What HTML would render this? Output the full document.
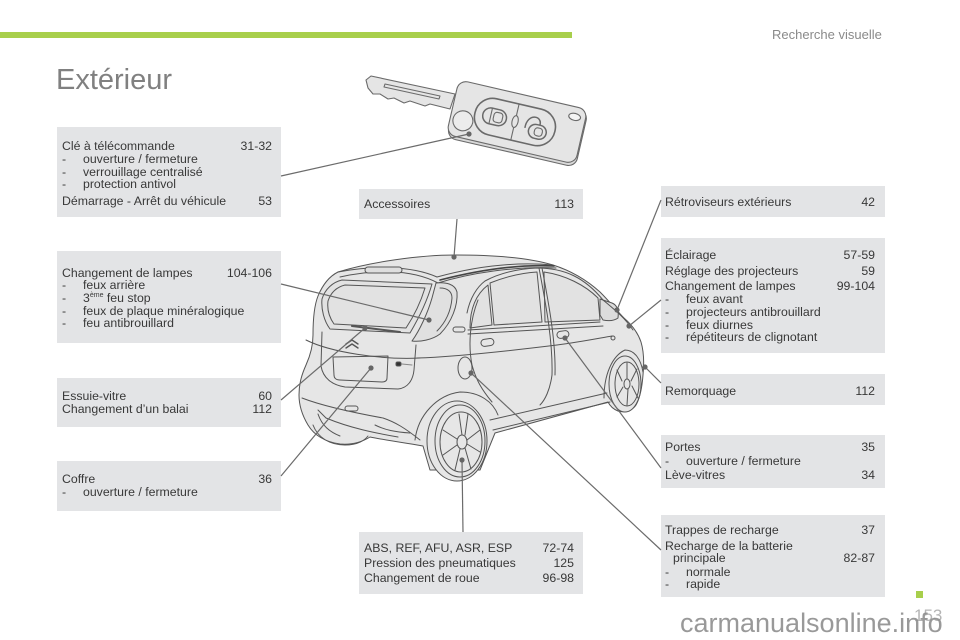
<!DOCTYPE html>
<html><head><meta charset="utf-8"><style>
html,body{margin:0;padding:0;}
body{width:960px;height:640px;position:relative;background:#fff;overflow:hidden;font-family:"Liberation Sans",Arial,sans-serif;}
.box{position:absolute;background:#e3e4e6;}
.t,.n{position:absolute;font-size:12.3px;line-height:14px;white-space:nowrap;color:#383838;}
.n{text-align:right;}
sup{font-size:7px;vertical-align:5px;line-height:0;}
svg{position:absolute;left:0;top:0;}
</style></head><body>

<div style="position:absolute;left:0;top:32px;width:572px;height:6px;background:#a8cf4c;"></div>
<div style="position:absolute;left:772px;top:28px;font-size:13px;line-height:13px;color:#8a8a8a;white-space:nowrap;">Recherche visuelle</div>
<div style="position:absolute;left:56px;top:66px;font-size:29px;line-height:29px;color:#808080;white-space:nowrap;">Extérieur</div>

<!-- left boxes -->
<div class="box" style="left:57px;top:127px;width:224px;height:90px;"></div>
<div class="t" style="left:62px;top:139px;">Clé à télécommande</div><div class="n" style="left:200px;width:72px;top:139px;">31-32</div>
<div class="t" style="left:62px;top:152px;">-</div><div class="t" style="left:83px;top:152px;">ouverture / fermeture</div>
<div class="t" style="left:62px;top:165px;">-</div><div class="t" style="left:83px;top:165px;">verrouillage centralisé</div>
<div class="t" style="left:62px;top:177px;">-</div><div class="t" style="left:83px;top:177px;">protection antivol</div>
<div class="t" style="left:62px;top:194px;">Démarrage - Arrêt du véhicule</div><div class="n" style="left:200px;width:72px;top:194px;">53</div>

<div class="box" style="left:57px;top:251px;width:224px;height:92px;"></div>
<div class="t" style="left:62px;top:266px;">Changement de lampes</div><div class="n" style="left:200px;width:72px;top:266px;">104-106</div>
<div class="t" style="left:62px;top:278px;">-</div><div class="t" style="left:83px;top:278px;">feux arrière</div>
<div class="t" style="left:62px;top:291px;">-</div><div class="t" style="left:83px;top:291px;">3<sup>ème</sup> feu stop</div>
<div class="t" style="left:62px;top:304px;">-</div><div class="t" style="left:83px;top:304px;">feux de plaque minéralogique</div>
<div class="t" style="left:62px;top:316px;">-</div><div class="t" style="left:83px;top:316px;">feu antibrouillard</div>

<div class="box" style="left:57px;top:378px;width:224px;height:49px;"></div>
<div class="t" style="left:62px;top:389px;">Essuie-vitre</div><div class="n" style="left:200px;width:72px;top:389px;">60</div>
<div class="t" style="left:62px;top:402px;">Changement d’un balai</div><div class="n" style="left:200px;width:72px;top:402px;">112</div>

<div class="box" style="left:57px;top:461px;width:224px;height:50px;"></div>
<div class="t" style="left:62px;top:472px;">Coffre</div><div class="n" style="left:200px;width:72px;top:472px;">36</div>
<div class="t" style="left:62px;top:485px;">-</div><div class="t" style="left:83px;top:485px;">ouverture / fermeture</div>

<!-- middle boxes -->
<div class="box" style="left:359px;top:189px;width:224px;height:30px;"></div>
<div class="t" style="left:364px;top:197px;">Accessoires</div><div class="n" style="left:500px;width:74px;top:197px;">113</div>

<div class="box" style="left:359px;top:532px;width:224px;height:62px;"></div>
<div class="t" style="left:364px;top:541px;">ABS, REF, AFU, ASR, ESP</div><div class="n" style="left:500px;width:74px;top:541px;">72-74</div>
<div class="t" style="left:364px;top:556px;">Pression des pneumatiques</div><div class="n" style="left:500px;width:74px;top:556px;">125</div>
<div class="t" style="left:364px;top:571px;">Changement de roue</div><div class="n" style="left:500px;width:74px;top:571px;">96-98</div>

<!-- right boxes -->
<div class="box" style="left:661px;top:186px;width:224px;height:31px;"></div>
<div class="t" style="left:665px;top:195px;">Rétroviseurs extérieurs</div><div class="n" style="left:800px;width:75px;top:195px;">42</div>

<div class="box" style="left:661px;top:238px;width:224px;height:115px;"></div>
<div class="t" style="left:665px;top:248px;">Éclairage</div><div class="n" style="left:800px;width:75px;top:248px;">57-59</div>
<div class="t" style="left:665px;top:264px;">Réglage des projecteurs</div><div class="n" style="left:800px;width:75px;top:264px;">59</div>
<div class="t" style="left:665px;top:279px;">Changement de lampes</div><div class="n" style="left:800px;width:75px;top:279px;">99-104</div>
<div class="t" style="left:665px;top:292px;">-</div><div class="t" style="left:686px;top:292px;">feux avant</div>
<div class="t" style="left:665px;top:305px;">-</div><div class="t" style="left:686px;top:305px;">projecteurs antibrouillard</div>
<div class="t" style="left:665px;top:318px;">-</div><div class="t" style="left:686px;top:318px;">feux diurnes</div>
<div class="t" style="left:665px;top:330px;">-</div><div class="t" style="left:686px;top:330px;">répétiteurs de clignotant</div>

<div class="box" style="left:661px;top:374px;width:224px;height:31px;"></div>
<div class="t" style="left:665px;top:384px;">Remorquage</div><div class="n" style="left:800px;width:75px;top:384px;">112</div>

<div class="box" style="left:661px;top:435px;width:224px;height:53px;"></div>
<div class="t" style="left:665px;top:440px;">Portes</div><div class="n" style="left:800px;width:75px;top:440px;">35</div>
<div class="t" style="left:665px;top:454px;">-</div><div class="t" style="left:686px;top:454px;">ouverture / fermeture</div>
<div class="t" style="left:665px;top:468px;">Lève-vitres</div><div class="n" style="left:800px;width:75px;top:468px;">34</div>

<div class="box" style="left:661px;top:515px;width:224px;height:82px;"></div>
<div class="t" style="left:665px;top:523px;">Trappes de recharge</div><div class="n" style="left:800px;width:75px;top:523px;">37</div>
<div class="t" style="left:665px;top:539px;">Recharge de la batterie</div>
<div class="t" style="left:673px;top:551px;">principale</div><div class="n" style="left:800px;width:75px;top:551px;">82-87</div>
<div class="t" style="left:665px;top:565px;">-</div><div class="t" style="left:686px;top:565px;">normale</div>
<div class="t" style="left:665px;top:577px;">-</div><div class="t" style="left:686px;top:577px;">rapide</div>

<div style="position:absolute;left:916px;top:591px;width:7px;height:7px;background:#a8cf4c;"></div>
<div style="position:absolute;left:914px;top:607px;font-size:17px;line-height:17px;color:#b5b5b5;white-space:nowrap;">153</div>
<div style="position:absolute;left:680px;top:610px;font-size:27px;line-height:27px;color:#8f8f8f;white-space:nowrap;opacity:0.9;">carmanualsonline.info</div>

<svg width="960" height="640" viewBox="0 0 960 640">
<!-- KEY -->
<g stroke="#6a6a6a" stroke-width="1.1" fill="#e5e5e5" stroke-linejoin="round">
  <polygon points="366,80 371,76 455,94 450,109 430,104 425,106 410,101 404,103 394,98 388,99 380,94 373,94 368,88"/>
  <path d="M385,84 L440,96 L439,99 L384,87 Z" fill="none"/>
  <g transform="rotate(13 517 122)">
    <rect x="452" y="96" width="132" height="57" rx="9" fill="#d9d9d9"/>
    <rect x="451" y="94" width="132" height="56" rx="9"/>
    <rect x="474" y="104" width="82" height="37" rx="18" fill="none" stroke-width="1.6"/>
    <line x1="515" y1="104" x2="515" y2="141"/>
    <ellipse cx="515" cy="122" rx="3" ry="6"/>
    <rect x="482" y="114" width="24" height="16" rx="8" fill="none" stroke-width="1.5"/>
    <line x1="490" y1="114" x2="490" y2="130"/>
    <rect x="493" y="117" width="9" height="10" rx="3" fill="none"/>
    <path d="M526,126 C525,110 541,110 540,120" fill="none" stroke-width="1.5"/>
    <rect x="530" y="120" width="18" height="14" rx="7" fill="none" stroke-width="1.5"/>
    <rect x="536" y="123" width="8" height="8" rx="3" fill="none"/>
    <circle cx="464" cy="133" r="10" fill="#ececec"/>
    <ellipse cx="572" cy="104" rx="6" ry="3.5" fill="#f4f4f4"/>
  </g>
</g>

<!-- CAR -->
<g stroke="#555" stroke-width="1" fill="none" stroke-linejoin="round" stroke-linecap="round">
  <path fill="#e6e6e6" d="M338,272 C370,262 420,255 455,255 C495,255 530,258 553,265 C575,272 590,283 600,292 C610,302 618,312 624,318 C632,325 638,333 641,342 C644,352 644,365 643,375 C642,388 640,398 636,405 C632,411 624,413 618,411 C613,409 610,406 608,402 L495,433 L480,470 L430,470 L423,446 C405,443 385,440 370,437 C362,442 352,445 340,444 C325,442 314,435 308,425 C302,415 299,405 299,395 C299,383 302,374 306,365 C311,354 313,345 313,335 C313,320 314,306 318,296 C323,284 330,276 338,272 Z"/>
  <!-- spoiler / roof -->
  <path d="M340,277 C370,270 410,268 438,283"/>
  <path d="M338,272 C370,266 410,265 437,277"/>
  <rect x="365" y="267" width="37" height="6" rx="3" fill="#dedede"/>
  <path d="M437,277 C470,268 510,261 553,265"/>
  <path d="M438,283 C470,273 515,266 556,268"/>
  <path d="M440,280 C475,271 515,264 554,266" stroke-width="1.6" stroke="#444"/>
  <!-- rear window -->
  <path d="M342,280 L432,284 C428,298 420,316 410,333 L330,329 C324,321 321,309 322,299 C325,289 333,282 342,280 Z" fill="#e2e2e2"/>
  <path d="M345,285 L425,288 C421,301 414,316 406,328 L334,324 C329,317 327,309 328,301 C331,292 337,287 345,285 Z"/>
  <!-- tail lamp -->
  <path d="M436,283 C446,282 455,284 457,292 C458,305 452,322 440,334 C432,340 420,342 412,341 C420,330 428,312 432,298 Z" fill="#e0e0e0"/>
  <path d="M440,288 C448,288 452,292 452,298 C451,310 446,322 437,331"/>
  <!-- wiper -->
  <path d="M352,326 L400,332" stroke-width="2"/>
  <!-- tailgate -->
  <path d="M306,340 C330,352 380,360 420,358"/>
  <path d="M322,332 L321,366 C323,378 332,385 345,387 L398,389 C408,388 413,380 414,370 L416,345"/>
  <path d="M333,357 L388,356 L387,378 C387,381 385,382 382,382 L340,380 C336,380 334,378 334,375 Z"/>
  <path d="M346,344 L352,340 L358,344 M346,348 L352,344 L358,348" stroke-width="1.4"/>
  <rect x="396" y="362" width="5" height="4" rx="1.5" fill="#333"/>
  <path d="M402,364 L412,365" stroke="#888"/>
  <!-- bumper -->
  <path d="M302,398 C320,405 350,412 383,418 C395,422 405,428 420,440"/>
  <path d="M318,410 L326,418 C350,428 375,433 398,437"/>
  <path d="M318,414 C322,426 330,432 340,436"/>
  <rect x="345" y="406" width="13" height="5" rx="2.5"/>
  <path d="M313,425 C318,438 330,445 345,445 C358,445 365,440 368,436"/>
  <path d="M375,425 C385,430 395,432 410,433" />
  <!-- side windows -->
  <path d="M470,328 C470,310 475,295 488,285 L492,325 Z" fill="#e2e2e2"/>
  <path d="M490,283 C505,277 520,273 537,272 L542,322 L494,325 Z" fill="#e2e2e2"/>
  <path d="M544,272 C565,275 585,285 598,298 L600,320 L545,322 Z" fill="#e2e2e2"/>
  <path d="M467,313 C470,298 477,287 485,281 C498,274 515,269 537,268 C565,268 585,278 603,300"/>
  <path d="M468,330 L600,322"/>
  <path d="M468,334 L603,326"/>
  <!-- door lines -->
  <path d="M539,268 C545,300 553,340 552,375 C550,390 545,400 540,405"/>
  <path d="M542,268 C548,300 556,340 555,375"/>
  <path d="M478,300 C470,320 468,345 472,365 C476,380 482,390 492,402"/>
  <path d="M417,358 C450,357 500,352 557,345 C580,342 600,338 612,336"/>
  <path d="M490,420 L607,393"/>
  <path d="M493,430 L610,402"/>
  <rect x="481" y="339" width="13" height="7" rx="3.5" transform="rotate(-8 487 343)"/>
  <rect x="557" y="331" width="12" height="7" rx="3.5" transform="rotate(-8 563 335)"/>
  <rect x="453" y="327" width="12" height="5" rx="2.5"/>
  <ellipse cx="465" cy="368" rx="7" ry="11"/>
  <circle cx="613" cy="338" r="2"/>
  <!-- mirror & front -->
  <path d="M600,299 L612,303 C617,305 619,310 618,318 C614,321 608,321 603,320 L600,315 Z" fill="#dcdcdc"/>
  <path d="M603,300 C615,310 625,318 633,330"/>
  <path d="M604,398 C604,375 612,356 625,350 C635,350 641,360 643,372"/>
  <!-- front wheel -->
  <ellipse cx="625" cy="384" rx="16" ry="28" fill="#e6e6e6"/>
  <ellipse cx="627" cy="384" rx="12" ry="22"/>
  <ellipse cx="627" cy="384" rx="3" ry="5"/>
  <path d="M627,379 L627,363 M631,381 L637,369 M632,386 L638,398 M628,389 L627,405 M623,387 L617,397 M622,381 L617,370"/>
  <!-- rear wheel -->
  <path d="M415,440 C418,415 437,395 460,392 C480,392 493,402 498,415"/>
  <ellipse cx="457" cy="441" rx="30" ry="40" fill="#e6e6e6"/>
  <ellipse cx="460" cy="441" rx="25" ry="36"/>
  <ellipse cx="461" cy="442" rx="21" ry="30"/>
  <ellipse cx="462" cy="442" rx="5" ry="7"/>
  <path d="M462,435 L459,414 M465,435 L468,414 M467,440 L480,430 M467,444 L480,452 M465,448 L471,469 M460,449 L455,470 M457,445 L443,455 M457,439 L443,430"/>
</g>

<!-- CONNECTORS -->
<g stroke="#6b6b6b" stroke-width="1.2" fill="none">
  <line x1="281" y1="176" x2="469" y2="134"/>
  <line x1="457" y1="219" x2="454" y2="257"/>
  <line x1="281" y1="284" x2="429" y2="320"/>
  <line x1="281" y1="400" x2="365" y2="328"/>
  <line x1="281" y1="476" x2="371" y2="368"/>
  <line x1="661" y1="200" x2="617" y2="310"/>
  <line x1="661" y1="300" x2="629" y2="326"/>
  <line x1="661" y1="383" x2="645" y2="367"/>
  <line x1="661" y1="468" x2="565" y2="338"/>
  <line x1="661" y1="550" x2="471" y2="373"/>
  <line x1="463" y1="532" x2="462" y2="460"/>
</g>
<g fill="#666">
  <circle cx="469" cy="134" r="2.6"/>
  <circle cx="454" cy="257" r="2.6"/>
  <circle cx="429" cy="320" r="2.6"/>
  <circle cx="365" cy="328" r="2.6"/>
  <circle cx="371" cy="368" r="2.6"/>
  <circle cx="617" cy="310" r="2.6"/>
  <circle cx="629" cy="326" r="2.6"/>
  <circle cx="645" cy="367" r="2.6"/>
  <circle cx="565" cy="338" r="2.6"/>
  <circle cx="471" cy="373" r="2.6"/>
  <circle cx="462" cy="460" r="2.6"/>
</g>
</svg>
</body></html>
